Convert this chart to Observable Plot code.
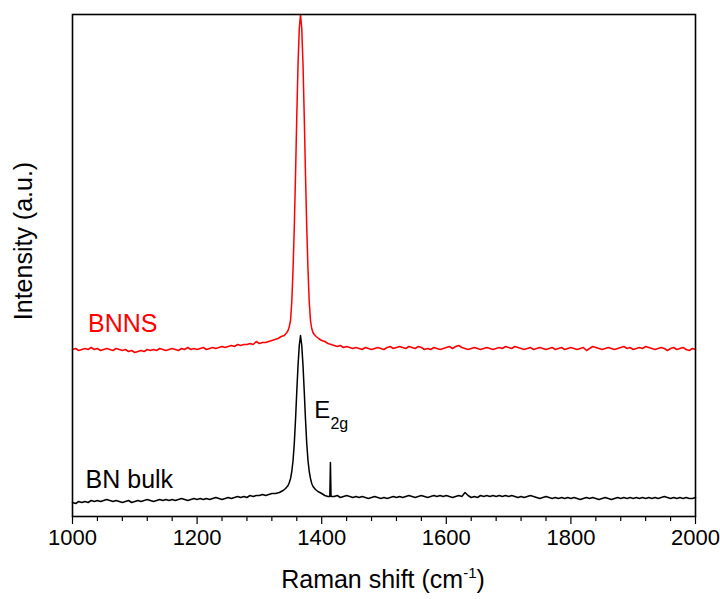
<!DOCTYPE html>
<html>
<head>
<meta charset="utf-8">
<script src="https://cdn.jsdelivr.net/npm/d3@7"></script>
<script src="https://cdn.jsdelivr.net/npm/@observablehq/plot@0.6"></script>
<style>
  body { margin: 0; background: #fff; }
  #chart svg { display: block; }
</style>
</head>
<body>
<div id="chart"></div>
<script>
// Raman shift (cm-1) vs intensity (a.u.) — BNNS (red) and BN bulk (black)
const bnns = [
  [1000,167],[1005,168],[1010,166],[1015,167],[1020,168],[1025,167],[1030,169],[1035,167],[1040,168],[1045,166],
  [1050,167],[1055,168],[1060,167],[1065,166],[1070,168],[1075,167],[1080,166],[1085,167],[1090,165],[1095,166],
  [1100,164],[1105,165],[1110,166],[1115,165],[1120,167],[1125,166],[1130,167],[1135,166],[1140,168],[1145,167],
  [1150,166],[1155,167],[1160,168],[1165,167],[1170,166],[1175,168],[1180,167],[1185,169],[1190,167],[1195,168],
  [1200,167],[1205,168],[1210,169],[1215,167],[1220,168],[1225,169],[1230,168],[1235,169],[1240,170],[1245,169],
  [1250,170],[1255,171],[1260,170],[1265,172],[1270,171],[1275,172],[1280,172],[1285,173],[1290,172],[1295,175],
  [1300,173],[1305,174],[1310,174],[1315,175],[1320,176],[1325,177],[1330,178],[1335,180],[1340,181],[1344,184],
  [1346,186],[1348,190],[1350,196],[1352,215],[1354,247],[1356,289],[1358,342],[1360,400],[1362,452],[1364,488],
  [1366,502],[1368,488],[1370,452],[1372,400],[1374,342],[1376,289],[1378,247],[1380,215],[1382,196],[1384,188],
  [1386,184],[1388,182],[1391,180],[1395,178],[1400,176],[1405,175],[1410,173],[1415,172],[1420,171],[1425,170],
  [1430,171],[1435,169],[1440,170],[1445,169],[1450,168],[1455,169],[1460,168],[1465,167],[1470,169],[1475,168],
  [1480,167],[1485,168],[1490,169],[1495,168],[1500,167],[1505,169],[1510,170],[1515,168],[1520,169],[1525,170],
  [1530,169],[1535,168],[1540,170],[1545,169],[1550,168],[1555,170],[1560,169],[1565,167],[1570,168],[1575,167],
  [1580,169],[1585,168],[1590,167],[1595,168],[1600,169],[1605,170],[1610,168],[1615,170],[1620,171],[1625,169],
  [1630,168],[1635,167],[1640,168],[1645,169],[1650,168],[1655,167],[1660,168],[1665,169],[1670,168],[1675,167],
  [1680,168],[1685,169],[1690,168],[1695,170],[1700,169],[1705,168],[1710,170],[1715,169],[1720,168],[1725,167],
  [1730,168],[1735,169],[1740,167],[1745,168],[1750,169],[1755,168],[1760,167],[1765,168],[1770,169],[1775,167],
  [1780,168],[1785,169],[1790,167],[1795,168],[1800,169],[1805,168],[1810,167],[1815,168],[1820,169],[1825,166],
  [1830,168],[1835,170],[1840,169],[1845,168],[1850,167],[1855,168],[1860,169],[1865,168],[1870,167],[1875,168],
  [1880,169],[1885,170],[1890,168],[1895,169],[1900,167],[1905,168],[1910,169],[1915,168],[1920,170],[1925,169],
  [1930,168],[1935,167],[1940,168],[1945,169],[1950,168],[1955,166],[1960,168],[1965,169],[1970,167],[1975,168],
  [1980,169],[1985,167],[1990,166],[1995,168],[2000,167]
];
const bnBulk = [
  [1000,14],[1005,13],[1010,15],[1015,14],[1020,15],[1025,14],[1030,16],[1035,15],[1040,16],[1045,15],
  [1050,16],[1055,17],[1060,16],[1065,15],[1070,16],[1075,15],[1080,14],[1085,15],[1090,16],[1095,14],
  [1100,15],[1105,16],[1110,15],[1115,16],[1120,17],[1125,16],[1130,15],[1135,16],[1140,17],[1145,16],
  [1150,17],[1155,16],[1160,17],[1165,16],[1170,17],[1175,18],[1180,17],[1185,16],[1190,17],[1195,18],
  [1200,17],[1205,18],[1210,17],[1215,18],[1220,17],[1225,18],[1230,19],[1235,18],[1240,17],[1245,18],
  [1250,19],[1255,18],[1260,19],[1265,20],[1270,19],[1275,20],[1280,19],[1285,21],[1290,20],[1295,21],
  [1300,21],[1305,22],[1310,21],[1315,22],[1320,23],[1326,23],[1332,24],[1338,26],[1342,28],[1346,31],
  [1348,34],[1350,38],[1352,45],[1354,56],[1356,73],[1358,97],[1360,125],[1362,151],[1364,171],[1366,181],
  [1368,171],[1370,151],[1372,125],[1374,97],[1376,73],[1378,56],[1380,45],[1382,38],[1384,33],[1386,30],
  [1390,27],[1394,25],[1400,23],[1405,21],[1410,20],[1413,20],[1414,54],[1415,20],[1420,20],[1425,21],
  [1430,19],[1435,20],[1440,21],[1445,20],[1450,19],[1455,20],[1460,19],[1465,20],[1470,19],[1475,18],
  [1480,19],[1485,20],[1490,19],[1495,18],[1500,19],[1505,18],[1510,19],[1515,20],[1520,19],[1525,20],
  [1530,19],[1535,20],[1540,21],[1545,20],[1550,19],[1555,20],[1560,21],[1565,20],[1570,19],[1575,20],
  [1580,21],[1585,20],[1590,21],[1595,20],[1600,21],[1605,20],[1610,19],[1615,20],[1620,21],[1625,20],
  [1630,24],[1635,21],[1640,19],[1645,20],[1650,19],[1655,21],[1660,20],[1665,21],[1670,20],[1675,21],
  [1680,20],[1685,21],[1690,20],[1695,21],[1700,20],[1705,21],[1710,20],[1715,19],[1720,20],[1725,19],
  [1730,20],[1735,21],[1740,20],[1745,19],[1750,18],[1755,19],[1760,20],[1765,19],[1770,18],[1775,19],
  [1780,18],[1785,19],[1790,18],[1795,19],[1800,18],[1805,19],[1810,18],[1815,17],[1820,18],[1825,19],
  [1830,18],[1835,19],[1840,18],[1845,17],[1850,18],[1855,19],[1860,18],[1865,17],[1870,18],[1875,19],
  [1880,18],[1885,19],[1890,18],[1895,19],[1900,18],[1905,19],[1910,18],[1915,19],[1920,18],[1925,19],
  [1930,18],[1935,19],[1940,18],[1945,19],[1950,20],[1955,19],[1960,18],[1965,19],[1970,18],[1975,19],
  [1980,18],[1985,19],[1990,18],[1995,18],[2000,19]
];
const majorTicks = [1000, 1200, 1400, 1600, 1800, 2000];
const minorTicks = [1040,1080,1120,1160,1240,1280,1320,1360,1440,1480,1520,1560,1640,1680,1720,1760,1840,1880,1920,1960];
const seriesLabels = [
  {text: "BNNS", x: 1025, y: 185, color: "#ff0000"},
  {text: "BN bulk", x: 1021, y: 29, color: "#000000"}
];
const peakLabel = {main: "E", sub: "2g", x: 1388, y: 99, subX: 1414, subY: 88};

const FONT = "'Liberation Sans', Arial, Helvetica, sans-serif";

const plot = Plot.plot({
  width: 720,
  height: 599,
  marginLeft: 72,
  marginRight: 25,
  marginTop: 14,
  marginBottom: 83,
  style: {fontFamily: FONT, background: "#fff", overflow: "visible"},
  x: {domain: [1000, 2000]},
  y: {domain: [0, 502], axis: null},
  marks: [
    Plot.line(bnBulk, {x: d => d[0], y: d => d[1], stroke: "#000", strokeWidth: 1.5}),
    Plot.line(bnns, {x: d => d[0], y: d => d[1], stroke: "#ff0000", strokeWidth: 1.5}),
    Plot.axisX({ticks: minorTicks, tickSize: 5, text: null, label: null, stroke: "#000", strokeWidth: 1.2}),
    Plot.axisX({ticks: majorTicks, tickSize: 8, tickPadding: 5, tickFormat: d => String(d), label: null,
      fontSize: 22, stroke: "#000", strokeWidth: 1.2, fill: "#000"}),
    Plot.frame({stroke: "#000", strokeWidth: 1.6}),
    Plot.text(seriesLabels, {x: "x", y: "y", text: "text", fill: "color", fontSize: 25,
      textAnchor: "start", lineAnchor: "bottom"}),
    Plot.text([peakLabel], {x: "x", y: "y", text: "main", fontSize: 24, textAnchor: "start",
      lineAnchor: "bottom", fill: "#000"}),
    Plot.text([peakLabel], {x: "subX", y: "subY", text: "sub", fontSize: 16, textAnchor: "start",
      lineAnchor: "bottom", fill: "#000"})
  ]
});

const svg = d3.select(plot);
// y-axis title
svg.append("text")
  .attr("transform", "translate(23,241) rotate(-90)")
  .attr("text-anchor", "middle")
  .attr("dy", "0.35em")
  .attr("font-family", FONT)
  .attr("font-size", 25)
  .attr("fill", "#000")
  .text("Intensity (a.u.)");

// x-axis title with superscript
const t = svg.append("text")
  .attr("x", 383)
  .attr("y", 588)
  .attr("text-anchor", "middle")
  .attr("font-family", FONT)
  .attr("font-size", 25)
  .attr("fill", "#000");
t.append("tspan").text("Raman shift (cm");
t.append("tspan").attr("dy", -10).attr("font-size", 15).text("-1");
t.append("tspan").attr("dy", 10).text(")");

document.getElementById("chart").appendChild(plot);
</script>
</body>
</html>
